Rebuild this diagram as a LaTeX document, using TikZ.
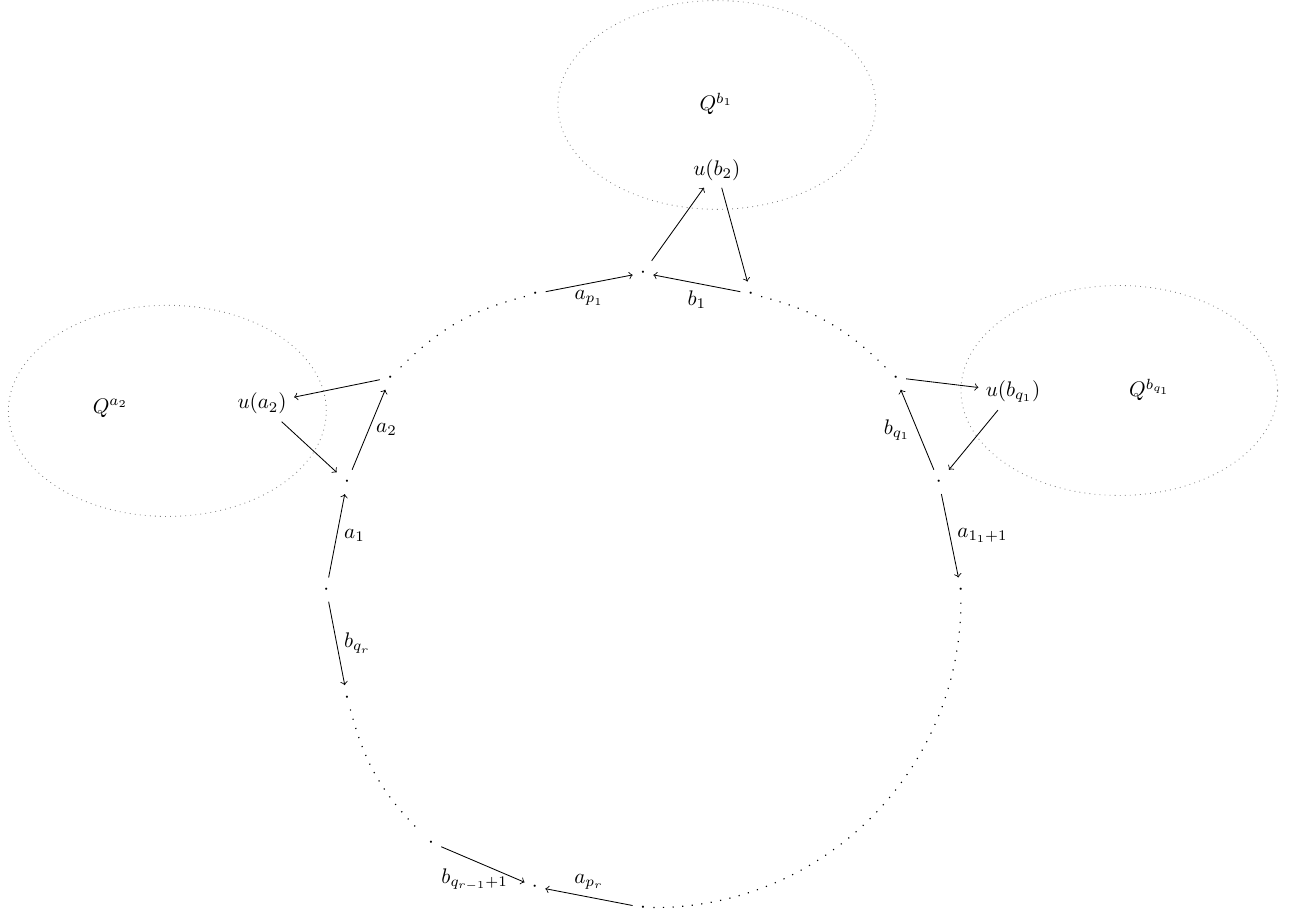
\documentclass[tikz,border=0pt]{standalone}
\begin{document}
\begin{tikzpicture}
  \useasboundingbox (-10.72,-5.52) rectangle (11.02,9.83);
  % the cycle
  \foreach \n/\a/\r in {top/90/5.28, pa/110/5.25, bb/70/5.25, va2/140/5.5,
      va1/160/5.25, w/180/5.28, qr/200/5.25, qrr/230/5.5, pr/250/5.27,
      bot/270/5.3, e/0/5.3, qlow/20/5.25, qtop/40/5.5}
    \node (\n) at (\a:\r) {$\cdot$};

  % the pieces Q
  \draw[dotted,gray] (1.23,8.08) ellipse (2.65 and 1.74);
  \draw[dotted,gray] (-7.93,2.98) ellipse (2.65 and 1.76);
  \draw[dotted,gray] (7.94,3.32) ellipse (2.64 and 1.75);
  \node (qb1) at (1.22,8.1) {$Q^{b_1}$};
  \node (qa2) at (-8.88,3.03) {$Q^{a_2}$};
  \node (qbq) at (8.45,3.33) {$Q^{b_{q_1}}$};
  \node (ub2) at (1.23,7.0) {$u(b_2)$};
  \node (ua2) at (-6.35,3.1) {$u(a_2)$};
  \node (ubq) at (6.17,3.3) {$u(b_{q_1})$};

  \draw[->] (pa) -- node[below] {$a_{p_1}$} (top);
  \draw[->] (bb) -- node[below] {$b_1$} (top);
  \draw[->] (top) -- (ub2);
  \draw[->] (ub2) -- (bb);

  \draw[->] (va1) -- node[right] {$a_2$} (va2);
  \draw[->] (va2) -- (ua2);
  \draw[->] (ua2) -- (va1);
  \draw[->] (w) -- node[right] {$a_1$} (va1);
  \draw[->] (w) -- node[right] {$b_{q_r}$} (qr);

  \draw[->] (qrr) -- node[below,pos=0.4] {$b_{q_{r-1}+1}$} (pr);
  \draw[->] (bot) -- node[above] {$a_{p_r}$} (pr);

  \draw[->] (qlow) -- node[left] {$b_{q_1}$} (qtop);
  \draw[->] (qtop) -- (ubq);
  \draw[->] (ubq) -- (qlow);
  \draw[->] (qlow) -- node[right] {$a_{1_1+1}$} (e);

  % the rest of the cycle
  \draw[loosely dotted,line width=0.55pt] (pa) to[bend right=15] (va2);
  \draw[loosely dotted,line width=0.55pt] (qtop) to[bend right=15] (bb);
  \draw[loosely dotted,line width=0.55pt] (qr) to[bend right=15] (qrr);
  \draw[loosely dotted,line width=0.55pt] (bot) to[bend right=45] (e);
\end{tikzpicture}
\end{document}
